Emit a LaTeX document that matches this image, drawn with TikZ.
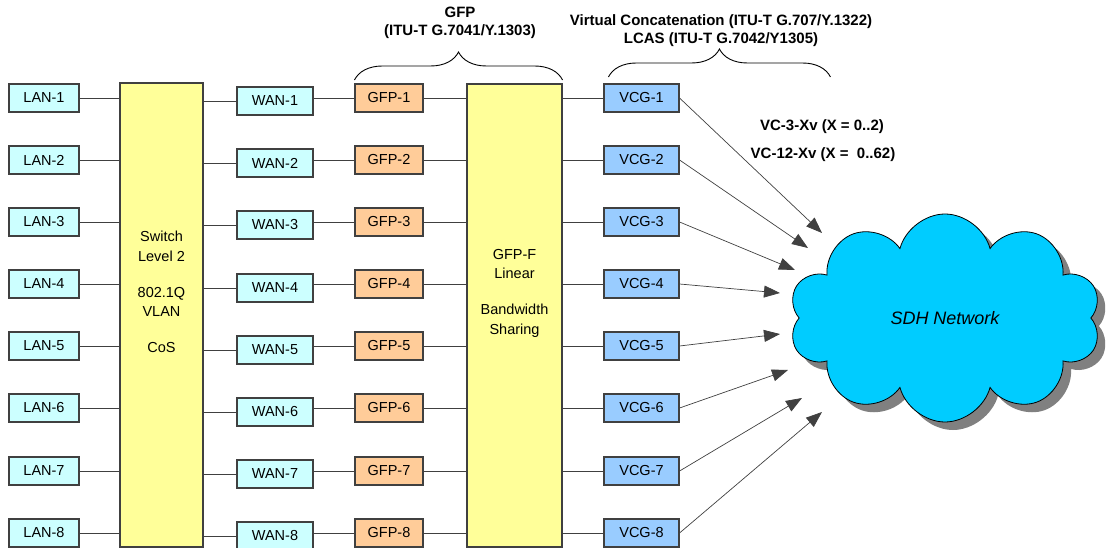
\documentclass[tikz,border=0pt]{standalone}
\usepackage{fontspec}
\setmainfont{Liberation Sans}
\usepackage{xcolor}
\usepackage{tikz}
\usetikzlibrary{decorations.pathreplacing}
\usetikzlibrary{positioning,shapes.symbols,arrows.meta,shadows}
\definecolor{lancyan}{HTML}{CCFFFF}
\definecolor{gfporange}{HTML}{FFCC99}
\definecolor{swyellow}{HTML}{FFFF99}
\definecolor{vcgblue}{HTML}{99CCFF}
\definecolor{cloudblue}{HTML}{00CCFF}
\definecolor{boxline}{HTML}{404040}
\tikzset{
	portnode/.style={rectangle, draw=boxline, line width=1.1pt, minimum height=28pt, inner sep=0pt, font=\fontsize{14.5}{16}\selectfont},
	lannode/.style={portnode, fill=lancyan, minimum width=70pt},
	wannode/.style={portnode, fill=lancyan, minimum width=76pt},
	gfpnode/.style={portnode, fill=gfporange, minimum width=68pt},
	vcgnode/.style={portnode, fill=vcgblue, minimum width=75pt},
	bignode/.style={rectangle, draw=boxline, line width=1.1pt, fill=swyellow, inner sep=0pt}
}
\tikzset{
	headtext/.style={align=center, font=\fontsize{15}{18}\bfseries},
	boxtext/.style={align=center, font=\fontsize{14.5}{19.5}\selectfont},
	link/.style={draw=boxline, line width=0.9pt},
	vcarrow/.style={-{Triangle[length=16pt,width=12pt]}, line width=0.7pt, draw=boxline},
	mybrace/.style={decorate, decoration={brace, amplitude=28pt}, line width=0.9pt}
}

\begin{document}
\begin{tikzpicture}[x=1pt, y=-1pt]
		\useasboundingbox (0,0) rectangle (1119,548);
		
		\node[lannode] at (44,98) (lan1) {LAN-1};
		\node[lannode] at (44,160) (lan2) {LAN-2};
		\node[lannode] at (44,222) (lan3) {LAN-3};
		\node[lannode] at (44,284) (lan4) {LAN-4};
		\node[lannode] at (44,346) (lan5) {LAN-5};
		\node[lannode] at (44,408) (lan6) {LAN-6};
		\node[lannode] at (44,471) (lan7) {LAN-7};
		\node[lannode] at (44,533) (lan8) {LAN-8};
		
		\node[bignode, minimum width=83pt, minimum height=464pt] at (161.5,315) (sw) {};
		\node[boxtext] at (161.5,292) (swtext) {Switch\\Level 2\\[-3pt]\\802.1Q\\VLAN\\[-3pt]\\CoS};
		
		\node[wannode] at (275,101) (wan1) {WAN-1};
		\node[wannode] at (275,163) (wan2) {WAN-2};
		\node[wannode] at (275,225) (wan3) {WAN-3};
		\node[wannode] at (275,288) (wan4) {WAN-4};
		\node[wannode] at (275,350) (wan5) {WAN-5};
		\node[wannode] at (275,412) (wan6) {WAN-6};
		\node[wannode] at (275,474) (wan7) {WAN-7};
		\node[wannode] at (275,536) (wan8) {WAN-8};
		
		\node[gfpnode] at (389,98) (gfp1) {GFP-1};
		\node[gfpnode] at (389,160) (gfp2) {GFP-2};
		\node[gfpnode] at (389,222) (gfp3) {GFP-3};
		\node[gfpnode] at (389,284) (gfp4) {GFP-4};
		\node[gfpnode] at (389,346) (gfp5) {GFP-5};
		\node[gfpnode] at (389,408) (gfp6) {GFP-6};
		\node[gfpnode] at (389,471) (gfp7) {GFP-7};
		\node[gfpnode] at (389,533) (gfp8) {GFP-8};
		
		\node[bignode, minimum width=95pt, minimum height=463pt] at (514.5,315.5) (gfpf) {};
		\node[boxtext] at (514.5,293) (gfpftext) {GFP-F\\Linear\\[-3pt]\\Bandwidth\\Sharing};
		
		\node[vcgnode] at (641.5,98) (vcg1) {VCG-1};
		\node[vcgnode] at (641.5,160) (vcg2) {VCG-2};
		\node[vcgnode] at (641.5,222) (vcg3) {VCG-3};
		\node[vcgnode] at (641.5,284) (vcg4) {VCG-4};
		\node[vcgnode] at (641.5,346) (vcg5) {VCG-5};
		\node[vcgnode] at (641.5,408) (vcg6) {VCG-6};
		\node[vcgnode] at (641.5,471) (vcg7) {VCG-7};
		\node[vcgnode] at (641.5,533) (vcg8) {VCG-8};
		
		\node[cloud, cloud puffs=10, aspect=1.45, draw=black, line width=0.8pt, fill=cloudblue, minimum width=312pt, minimum height=208pt, inner sep=0pt, drop shadow={shadow xshift=8pt, shadow yshift=-8pt, fill=gray, opacity=1}] at (945,318) (sdh) {\fontsize{18}{20}\itshape SDH Network};
		
		\node[headtext] at (460,23) (gfphead) {GFP\\(ITU-T G.7041/Y.1303)};
		\node[headtext] at (721,31) (vchead) {Virtual Concatenation (ITU-T G.707/Y.1322)\\LCAS (ITU-T G.7042/Y1305)};
		\node[headtext] at (822,127) (vc3) {VC-3-Xv (X = 0..2)};
		\node[headtext] at (823,155) (vc12) {VC-12-Xv (X =\ \ 0..62)};
		
		\coordinate (e1) at (822,233);
		\coordinate (e2) at (808,248);
		\coordinate (e3) at (795,270);
		\coordinate (e4) at (780,293);
		\coordinate (e5) at (780,334);
		\coordinate (e6) at (788,370);
		\coordinate (e7) at (802,398);
		\coordinate (e8) at (822,412);
		
		%Lines
		\draw[link] (lan1) -- (lan1 -| sw.west);
		\draw[link] (lan2) -- (lan2 -| sw.west);
		\draw[link] (lan3) -- (lan3 -| sw.west);
		\draw[link] (lan4) -- (lan4 -| sw.west);
		\draw[link] (lan5) -- (lan5 -| sw.west);
		\draw[link] (lan6) -- (lan6 -| sw.west);
		\draw[link] (lan7) -- (lan7 -| sw.west);
		\draw[link] (lan8) -- (lan8 -| sw.west);
		
		\draw[link] (wan1) -- (wan1 -| sw.east);
		\draw[link] (wan2) -- (wan2 -| sw.east);
		\draw[link] (wan3) -- (wan3 -| sw.east);
		\draw[link] (wan4) -- (wan4 -| sw.east);
		\draw[link] (wan5) -- (wan5 -| sw.east);
		\draw[link] (wan6) -- (wan6 -| sw.east);
		\draw[link] (wan7) -- (wan7 -| sw.east);
		\draw[link] (wan8) -- (wan8 -| sw.east);
		
		\draw[link] (gfp1) -- (gfp1 -| wan1.east);
		\draw[link] (gfp2) -- (gfp2 -| wan2.east);
		\draw[link] (gfp3) -- (gfp3 -| wan3.east);
		\draw[link] (gfp4) -- (gfp4 -| wan4.east);
		\draw[link] (gfp5) -- (gfp5 -| wan5.east);
		\draw[link] (gfp6) -- (gfp6 -| wan6.east);
		\draw[link] (gfp7) -- (gfp7 -| wan7.east);
		\draw[link] (gfp8) -- (gfp8 -| wan8.east);
		
		\draw[link] (gfp1) -- (gfp1 -| gfpf.west);
		\draw[link] (gfp2) -- (gfp2 -| gfpf.west);
		\draw[link] (gfp3) -- (gfp3 -| gfpf.west);
		\draw[link] (gfp4) -- (gfp4 -| gfpf.west);
		\draw[link] (gfp5) -- (gfp5 -| gfpf.west);
		\draw[link] (gfp6) -- (gfp6 -| gfpf.west);
		\draw[link] (gfp7) -- (gfp7 -| gfpf.west);
		\draw[link] (gfp8) -- (gfp8 -| gfpf.west);
		
		\draw[link] (vcg1) -- (vcg1 -| gfpf.east);
		\draw[link] (vcg2) -- (vcg2 -| gfpf.east);
		\draw[link] (vcg3) -- (vcg3 -| gfpf.east);
		\draw[link] (vcg4) -- (vcg4 -| gfpf.east);
		\draw[link] (vcg5) -- (vcg5 -| gfpf.east);
		\draw[link] (vcg6) -- (vcg6 -| gfpf.east);
		\draw[link] (vcg7) -- (vcg7 -| gfpf.east);
		\draw[link] (vcg8) -- (vcg8 -| gfpf.east);
		
		\draw[vcarrow] (vcg1.east) -- (e1);
		\draw[vcarrow] (vcg2.east) -- (e2);
		\draw[vcarrow] (vcg3.east) -- (e3);
		\draw[vcarrow] (vcg4.east) -- (e4);
		\draw[vcarrow] (vcg5.east) -- (e5);
		\draw[vcarrow] (vcg6.east) -- (e6);
		\draw[vcarrow] (vcg7.east) -- (e7);
		\draw[vcarrow] (vcg8.east) -- (e8);
		
		\draw[mybrace] (gfp1.north west |- 0,80) -- (gfpf.north east |- 0,80);
		\draw[mybrace] (vcg1.north west |- 0,77) ++(5,0) -- ++(222,0);
	\end{tikzpicture}
\end{document}
